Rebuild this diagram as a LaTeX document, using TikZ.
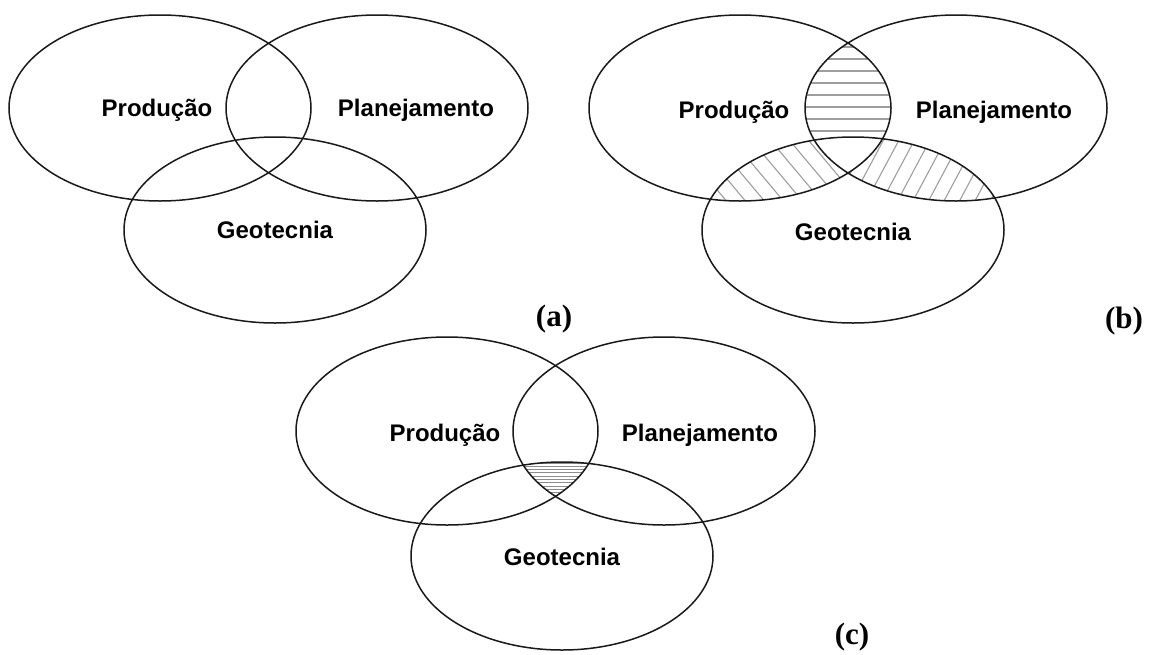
\documentclass[tikz,border=0pt]{standalone}
\usepackage{fontspec}
\setmainfont{Liberation Serif}
\setsansfont{Liberation Sans}
\begin{document}
\begin{tikzpicture}[x=1pt,y=-1pt,
  ring/.style={line width=1.5pt, draw=black!90},
  setname/.style={font=\sffamily\bfseries\fontsize{24}{28}\selectfont, anchor=base, inner sep=0pt},
  tag/.style={font=\rmfamily\bfseries\fontsize{31}{36}\selectfont, anchor=base, inner sep=0pt},
  hatch/.style={draw=black!38, line width=1.1pt},
  finehatch/.style={draw=black!45, line width=0.9pt}]
\useasboundingbox (0,0) rectangle (1151,654);
\def\ex{151pt}\def\ey{93pt}

% ---------- (a) ----------
\draw[ring] (160,108) ellipse [x radius=\ex, y radius=\ey];
\draw[ring] (377,108) ellipse [x radius=\ex, y radius=\ey];
\draw[ring] (275,230) ellipse [x radius=\ex, y radius=\ey];
\node[setname] (aprod) at (157,116.5) {Produção};
\node[setname] (aplan) at (416,116.5) {Planejamento};
\node[setname] (ageo)  at (275,238.5) {Geotecnia};
\node[tag] (atag) at (554,326) {(a)};

% ---------- (b) ----------
% Produção ∩ Planejamento: horizontal lines
\begin{scope}
  \clip (740,108) ellipse [x radius=\ex, y radius=\ey];
  \clip (956,108) ellipse [x radius=\ex, y radius=\ey];
  \foreach \y in {47,59,...,143} \draw[hatch] (760,\y) -- (940,\y);
\end{scope}
% Produção ∩ Geotecnia: falling diagonals
\begin{scope}
  \clip (740,108) ellipse [x radius=\ex, y radius=\ey];
  \clip (853,230) ellipse [x radius=\ex, y radius=\ey];
  \foreach \k in {0,...,16} \draw[hatch] (640+\k*19,98) -- ++(120,143);
\end{scope}
% Planejamento ∩ Geotecnia: rising diagonals
\begin{scope}
  \clip (956,108) ellipse [x radius=\ex, y radius=\ey];
  \clip (853,230) ellipse [x radius=\ex, y radius=\ey];
  \foreach \k in {0,...,20} \draw[hatch] (830+\k*15.5,95) -- ++(-80,150);
\end{scope}
% centre region left blank
\begin{scope}
  \clip (740,108) ellipse [x radius=\ex, y radius=\ey];
  \clip (956,108) ellipse [x radius=\ex, y radius=\ey];
  \fill[white] (853,230) ellipse [x radius=\ex, y radius=\ey];
\end{scope}
\draw[ring] (740,108) ellipse [x radius=\ex, y radius=\ey];
\draw[ring] (956,108) ellipse [x radius=\ex, y radius=\ey];
\draw[ring] (853,230) ellipse [x radius=\ex, y radius=\ey];
\node[setname] (bprod) at (734,118.5) {Produção};
\node[setname] (bplan) at (994,118.5) {Planejamento};
\node[setname] (bgeo)  at (853,240.5) {Geotecnia};
\node[tag] (btag) at (1124,328) {(b)};

% ---------- (c) ----------
\begin{scope}
  \clip (447,431) ellipse [x radius=\ex, y radius=94pt];
  \clip (664,431) ellipse [x radius=\ex, y radius=94pt];
  \clip (562,556) ellipse [x radius=\ex, y radius=94pt];
  \foreach \y in {463,466.3,...,500} \draw[finehatch] (500,\y) -- (620,\y);
\end{scope}
\draw[ring] (447,431) ellipse [x radius=\ex, y radius=94pt];
\draw[ring] (664,431) ellipse [x radius=\ex, y radius=94pt];
\draw[ring] (562,556) ellipse [x radius=\ex, y radius=94pt];
\node[setname] (cprod) at (445,441.5) {Produção};
\node[setname] (cplan) at (700,441.5) {Planejamento};
\node[setname] (cgeo)  at (562,565.5) {Geotecnia};
\node[tag] (ctag) at (852,644) {(c)};
\end{tikzpicture}
\end{document}
